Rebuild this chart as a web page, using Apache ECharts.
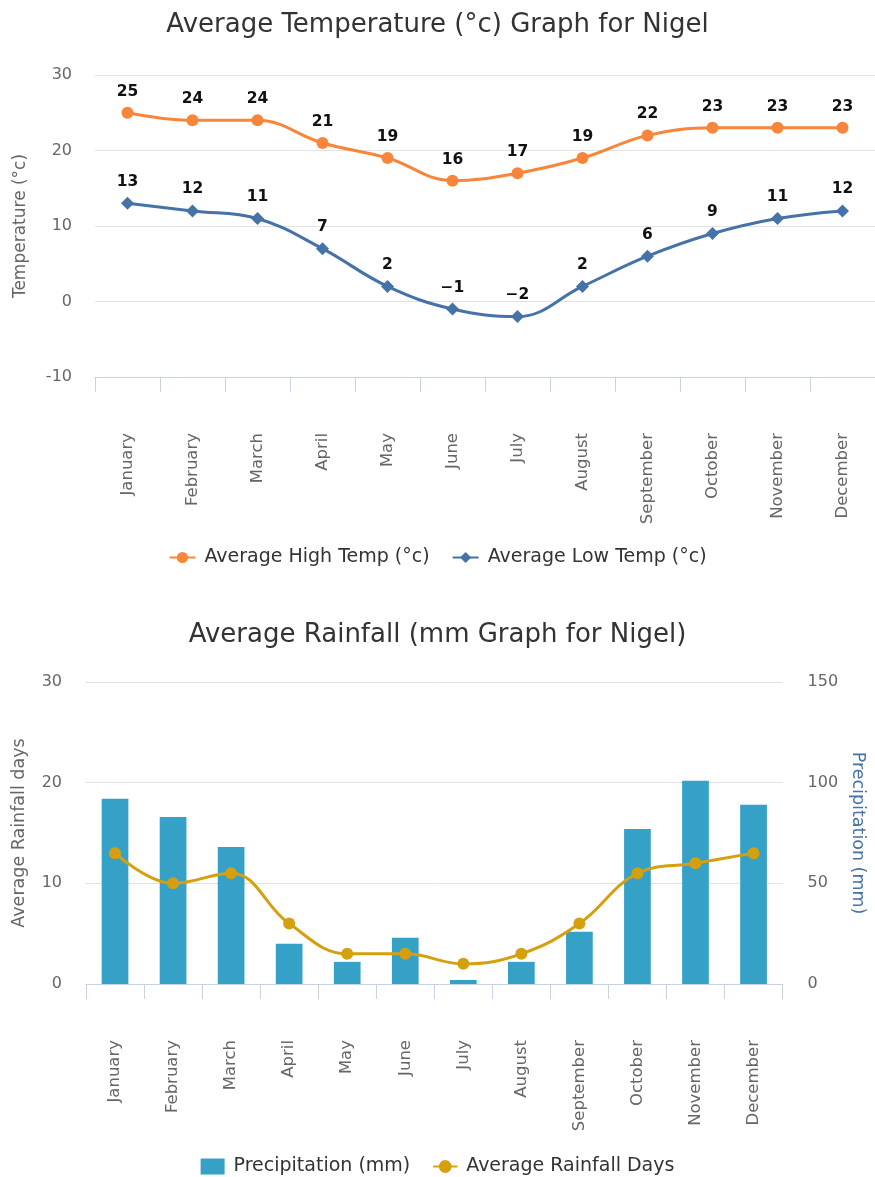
<!DOCTYPE html>
<html>
<head>
<meta charset="utf-8">
<title>Nigel climate graphs</title>
<script src="https://cdn.jsdelivr.net/npm/echarts@6/dist/echarts.min.js"></script>
<style>
  html, body { margin: 0; padding: 0; background: #ffffff; }
  #temp { position: absolute; left: 0; top: 0; width: 875px; height: 590px; }
  #rain { position: absolute; left: 0; top: 590px; width: 875px; height: 587px; }
</style>
</head>
<body>
<div id="temp"></div>
<div id="rain"></div>
<script>
// Monthly climate figures for Nigel
const months = ['January', 'February', 'March', 'April', 'May', 'June',
  'July', 'August', 'September', 'October', 'November', 'December'];
const highTemp = [25, 24, 24, 21, 19, 16, 17, 19, 22, 23, 23, 23];
const lowTemp = [13, 12, 11, 7, 2, -1, -2, 2, 6, 9, 11, 12];
const precipitation = [92, 83, 68, 20, 11, 23, 2, 11, 26, 77, 101, 89];
const rainfallDays = [13, 10, 11, 6, 3, 3, 2, 3, 6, 11, 12, 13];

const FONT = 'DejaVu Sans';
const ORANGE = '#f7863a';
const BLUE = '#4572a7';
const BAR = '#36a1c6';
const GOLD = '#d4a010';
const GRID_LINE = '#e2e2e2';
const AXIS_LINE = '#c6d3e3';

function monthAxis() {
  return {
    type: 'category',
    data: months,
    boundaryGap: true,
    axisLine: { onZero: false, lineStyle: { color: AXIS_LINE, width: 1 } },
    axisTick: { show: true, length: 15, lineStyle: { color: AXIS_LINE } },
    axisLabel: { rotate: 90, margin: 56, color: '#666', fontFamily: FONT, fontSize: 16.5 }
  };
}

function legendText() {
  return { fontFamily: FONT, fontSize: 19, color: '#333', padding: [0, 0, 0, 4] };
}

// ---- Temperature chart ----
const tempChart = echarts.init(document.getElementById('temp'));
tempChart.setOption({
  animation: false,
  textStyle: { fontFamily: FONT },
  title: {
    text: 'Average Temperature (°c) Graph for Nigel',
    left: 'center', top: 7,
    textStyle: { fontFamily: FONT, fontSize: 26, fontWeight: 'normal', color: '#333' }
  },
  legend: {
    top: 543, left: 'center',
    itemWidth: 26, itemHeight: 14, itemGap: 22,
    textStyle: legendText(),
    data: ['Average High Temp (°c)', 'Average Low Temp (°c)']
  },
  grid: { left: 95, top: 75, width: 783, height: 302, containLabel: false },
  xAxis: monthAxis(),
  yAxis: {
    type: 'value', min: -10, max: 30, interval: 10,
    name: 'Temperature (°c)', nameLocation: 'middle', nameGap: 66, nameRotate: 90,
    nameTextStyle: { fontFamily: FONT, fontSize: 17, color: '#666' },
    axisLine: { show: false }, axisTick: { show: false },
    axisLabel: { margin: 23, color: '#666', fontFamily: FONT, fontSize: 16 },
    splitLine: { lineStyle: { color: GRID_LINE, width: 1 } }
  },
  series: [
    {
      name: 'Average High Temp (°c)', type: 'line', data: highTemp, smooth: 0.4,
      symbol: 'circle', symbolSize: 12,
      lineStyle: { color: ORANGE, width: 3 }, itemStyle: { color: ORANGE },
      label: { show: true, position: 'top', distance: 7, color: '#111',
        fontFamily: FONT, fontSize: 15.5, fontWeight: 'bold' }
    },
    {
      name: 'Average Low Temp (°c)', type: 'line', data: lowTemp, smooth: 0.4,
      symbol: 'diamond', symbolSize: 13,
      lineStyle: { color: BLUE, width: 3 }, itemStyle: { color: BLUE },
      label: { show: true, position: 'top', distance: 7, color: '#111',
        fontFamily: FONT, fontSize: 15.5, fontWeight: 'bold',
        formatter: p => String(p.value).replace('-', '\u2212') }
    }
  ]
});

// ---- Rainfall chart ----
const rainChart = echarts.init(document.getElementById('rain'));
rainChart.setOption({
  animation: false,
  textStyle: { fontFamily: FONT },
  title: {
    text: 'Average Rainfall (mm Graph for Nigel)',
    left: 'center', top: 27,
    textStyle: { fontFamily: FONT, fontSize: 26, fontWeight: 'normal', color: '#333' }
  },
  legend: {
    top: 562, left: 'center',
    itemWidth: 24, itemHeight: 16, itemGap: 22,
    textStyle: legendText(),
    data: [{ name: 'Precipitation (mm)', icon: 'rect' }, 'Average Rainfall Days']
  },
  grid: { left: 86, top: 92, width: 697, height: 302, containLabel: false },
  xAxis: monthAxis(),
  yAxis: [
    {
      type: 'value', min: 0, max: 30, interval: 10, position: 'left',
      name: 'Average Rainfall days', nameLocation: 'middle', nameGap: 58, nameRotate: 90,
      nameTextStyle: { fontFamily: FONT, fontSize: 17.5, color: '#666' },
      axisLine: { show: false }, axisTick: { show: false },
      axisLabel: { margin: 24, color: '#666', fontFamily: FONT, fontSize: 16 },
      splitLine: { lineStyle: { color: GRID_LINE, width: 1 } }
    },
    {
      type: 'value', min: 0, max: 150, interval: 50, position: 'right',
      name: 'Precipitation (mm)', nameLocation: 'middle', nameGap: 66, nameRotate: -90,
      nameTextStyle: { fontFamily: FONT, fontSize: 17.5, color: BLUE },
      axisLine: { show: false }, axisTick: { show: false },
      axisLabel: { margin: 25, color: '#666', fontFamily: FONT, fontSize: 16 },
      splitLine: { show: false }
    }
  ],
  series: [
    {
      name: 'Precipitation (mm)', type: 'bar', yAxisIndex: 1, data: precipitation,
      barWidth: '46%', itemStyle: { color: BAR }
    },
    {
      name: 'Average Rainfall Days', type: 'line', yAxisIndex: 0, data: rainfallDays,
      smooth: 0.4, symbol: 'circle', symbolSize: 12,
      lineStyle: { color: GOLD, width: 3 }, itemStyle: { color: GOLD }
    }
  ]
});
</script>
</body>
</html>
